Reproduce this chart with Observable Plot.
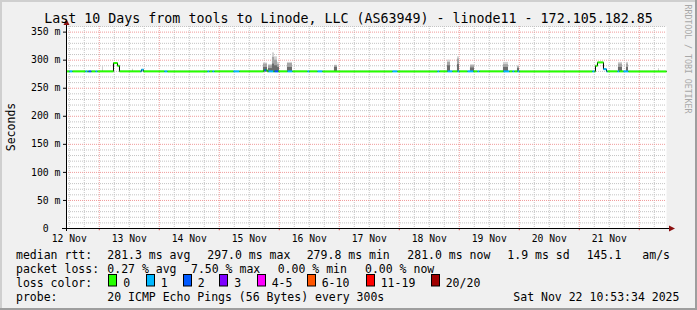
<!DOCTYPE html>
<html><head><meta charset="utf-8">
<script src="https://cdn.jsdelivr.net/npm/d3@7"></script>
<script src="https://cdn.jsdelivr.net/npm/@observablehq/plot@0.6"></script>
<style>html,body{margin:0;padding:0;background:#f0f0f0;} svg{display:block}</style>
</head><body><div id="chart"></div>
<script>
const FONT = "'DejaVu Sans Mono', monospace";
const title = "Last 10 Days from tools to Linode, LLC (AS63949) - linode11 - 172.105.182.85";
const yAxisTitle = "Seconds";
const watermark = "RRDTOOL / TOBI OETIKER";
const rangeStart = "12 10:53:34", rangeEnd = "22 10:53:34";
const dayNoons = ["12 12:00","13 12:00","14 12:00","15 12:00","16 12:00","17 12:00","18 12:00","19 12:00","20 12:00","21 12:00"];
const dayLabels = ["12 Nov","13 Nov","14 Nov","15 Nov","16 Nov","17 Nov","18 Nov","19 Nov","20 Nov","21 Nov"];
const yTicks = [0,50,100,150,200,250,300,350];
const yTickLabels = ["0\u00a0\u00a0","50 m","100 m","150 m","200 m","250 m","300 m","350 m"];

// median rtt (ms), step changes
const medianTime = ["12 10:53","13 05:41","13 07:17","13 08:05","13 16:53","13 17:41","15 17:41","15 19:17","21 06:29","21 07:17","21 09:41","21 10:53"];
const medianMs   = [280, 295, 290, 280, 283, 280, 282, 280, 290, 296, 284, 280];

// packet loss intervals (lost pings out of 20)
const lossStart = ["12 12:05","12 18:29","12 19:41","12 22:29","13 16:29","14 02:05","14 19:17","14 21:17","15 05:41","15 18:05","15 19:41","15 22:05","16 03:17","16 11:17","16 15:17","17 21:17","18 15:17","18 19:17","18 23:17","19 03:17","19 07:17","19 17:41","19 21:17","19 23:17","21 05:17","21 09:41","21 15:17","21 17:41"];
const lossEnd   = ["12 13:17","12 19:17","12 20:53","12 23:17","13 17:41","14 03:17","14 20:05","14 22:05","15 08:05","15 18:53","15 21:41","15 23:41","16 05:17","16 12:05","16 17:17","17 23:17","18 16:05","18 21:17","19 00:05","19 05:41","19 08:05","19 20:05","19 22:05","20 00:05","21 06:05","21 11:17","21 16:05","21 19:41"];
const lossCount = [1,1,2,1,1,1,1,1,1,2,1,2,1,1,1,1,1,1,1,1,1,1,1,1,1,1,1,1];

// smoke (ping spread, ms)
const smokeStart = ["13 01:17","13 13:17","15 17:41","15 19:41","15 21:17","15 22:05","15 23:17","16 03:17","16 22:05","18 19:17","18 23:17","19 04:29","19 17:41","19 23:17","21 15:41","21 18:53","22 07:41"];
const smokeEnd   = ["13 01:41","13 13:41","15 19:17","15 21:17","15 22:05","15 23:17","16 00:05","16 05:17","16 23:17","18 20:29","19 00:05","19 06:05","19 19:41","20 00:05","21 17:17","21 19:41","22 08:05"];
const smokeTop   = [290,284,295,292,313,306,296,296,291,300,306,292,296,290,296,296,285];
const smokeUpper = [280,280,293,290,305,300,292,294,290,296,302,290,292,288,293,293,280];
const smokeMid   = [280,280,287,285,293,290,287,287,287,290,292,286,287,285,287,287,280];

const rttLabel = "median rtt:";
const rttStats = ["281.3 ms avg","297.0 ms max","279.8 ms min","281.0 ms now","1.9 ms sd","145.1","am/s"];
const lossLabel = "packet loss:";
const lossStats = ["0.27 % avg","7.50 % max","0.00 % min","0.00 % now"];
const colorLabel = "loss color:";
const lossLabels = ["0","1","2","3","4-5","6-10","11-19","20/20"];
const lossColors = ["#26ff00","#00b8ff","#0059ff","#7e00ff","#ff00ff","#ff5500","#ff0000","#a10000"];
const probeLabel = "probe:";
const probeText = "20 ICMP Echo Pings (56 Bytes) every 300s";
const stamp = "Sat Nov 22 10:53:34 2025";

function T(s){const [d,hms]=s.split(" ");const [h,m,sec=0]=hms.split(":").map(Number);return new Date(Date.UTC(2025,10,+d,h,m,sec));}
function lossClass(n){return n===0?0:n===1?1:n===2?2:n===3?3:n<=5?4:n<=10?5:n<=19?6:7;}

const x0 = T(rangeStart), x1 = T(rangeEnd);
const majorX = d3.utcDay.range(x0, x1);
const minorX = d3.utcHour.every(6).range(x0, x1).filter(d => d.getUTCHours() !== 0);
const majorY = d3.range(50, 351, 50);
const minorY = d3.range(10, 361, 10).filter(v => v % 50 !== 0);

const medianPts = medianTime.map((t,i)=>({t:T(t), v:medianMs[i]})).concat([{t:x1, v:medianMs[medianMs.length-1]}]);
const bs = [...new Set([+x0, +x1, ...medianTime.map(s=>+T(s)), ...lossStart.map(s=>+T(s)), ...lossEnd.map(s=>+T(s))])].filter(v=>v>=+x0&&v<=+x1).sort((a,b)=>a-b);
const segs = [];
for (let i=0;i<bs.length-1;i++){
  const a=bs[i], b=bs[i+1];
  let v=medianMs[0];
  medianTime.forEach((s,k)=>{ if(+T(s)<=a) v=medianMs[k]; });
  let n=0;
  lossStart.forEach((s,k)=>{ if(+T(s)<=a && a<+T(lossEnd[k])) n=lossCount[k]; });
  segs.push({a:new Date(a), b:new Date(b), v, color:lossColors[lossClass(n)]});
}
const smoke = smokeStart.map((s,i)=>({a:T(s), b:T(smokeEnd[i]), top:smokeTop[i], up:smokeUpper[i], mid:smokeMid[i]}));

const chart = Plot.plot({
  width: 697, height: 310,
  marginLeft: 66, marginRight: 31, marginTop: 26, marginBottom: 82,
  style: {background: "#f0f0f0", fontFamily: FONT, color: "black", overflow: "visible"},
  x: {type: "utc", domain: [x0, x1], axis: null},
  y: {domain: [0, 360], axis: null},
  marks: [
    Plot.frame({fill: "white", stroke: "none"}),
    Plot.ruleY(minorY, {stroke: "#c4c4c4", strokeDasharray: "1,1"}),
    Plot.ruleX(minorX, {stroke: "#c4c4c4", strokeDasharray: "1,1"}),
    Plot.ruleY(majorY, {stroke: "#f09a9a", strokeDasharray: "1,1"}),
    Plot.ruleX(majorX, {stroke: "#f09a9a", strokeDasharray: "1,1"}),
    Plot.rect(smoke, {x1: "a", x2: "b", y1: d => 279, y2: "top", fill: "#d2d2d2"}),
    Plot.rect(smoke, {x1: "a", x2: "b", y1: d => 279, y2: "up", fill: "#a4a4a4"}),
    Plot.rect(smoke, {x1: "a", x2: "b", y1: d => 279, y2: "mid", fill: "#6c6c6c"}),
    Plot.line(medianPts, {x: "t", y: "v", curve: "step-after", stroke: "black", strokeWidth: 1}),
    Plot.link(segs, {x1: "a", x2: "b", y1: "v", y2: "v", stroke: "color", strokeWidth: 2}),
    Plot.ruleX(majorX, {y1: d => 0, y2: d => -4, stroke: "#e05050"}),
    Plot.axisY(yTicks, {tickSize: 3, tickPadding: 3, fontSize: 9.8, tickFormat: d => yTickLabels[yTicks.indexOf(d)]}),
    Plot.text(dayLabels, {x: (d,i) => T(dayNoons[i]), frameAnchor: "bottom", dy: 10.5, fontSize: 9.7, lineAnchor: "middle"})
  ]
});
document.getElementById("chart").appendChild(chart);

const svg = d3.select(chart);
const sx = chart.scale("x"), sy = chart.scale("y");
const X0 = Math.round(sx.apply(x0)), X1 = Math.round(sx.apply(x1)), Y0 = Math.round(sy.apply(0)), YT = Math.round(sy.apply(360));
const g = svg.append("g");
g.append("line").attr("x1", X0-4).attr("x2", X1+4).attr("y1", Y0+0.5).attr("y2", Y0+0.5).attr("stroke", "black");
g.append("line").attr("x1", X0+0.5).attr("x2", X0+0.5).attr("y1", Y0+3).attr("y2", YT-1).attr("stroke", "black");
g.append("path").attr("d", `M${X1+3},${Y0-2.5}L${X1+9},${Y0+0.5}L${X1+3},${Y0+3.5}Z`).attr("fill", "#8b1010");
g.append("path").attr("d", `M${X0-2.5},${YT-1}L${X0+0.5},${YT-7}L${X0+3.5},${YT-1}Z`).attr("fill", "#8b1010");

// shade border
const W = 697, H = 310;
g.append("path").attr("d", `M0,0H${W}V2H2V${H}H0Z`).attr("fill", "#cfcfcf");
g.append("path").attr("d", `M${W},0V${H}H0V${H-2}H${W-2}V0Z`).attr("fill", "#9e9e9e");

const txt = (x, y, s, size, opts={}) => g.append("text").attr("x", x).attr("y", y).attr("font-family", FONT)
  .attr("font-size", size).attr("fill", opts.fill || "black").attr("text-anchor", opts.anchor || "start")
  .style("white-space", "pre").text(s);

txt(348.5, 23, title, 13.3, {anchor: "middle"});
g.append("text").attr("transform", "translate(14.5,127) rotate(-90)").attr("text-anchor", "middle")
  .attr("font-family", FONT).attr("font-size", 11.5).text(yAxisTitle);
// vertical watermark, one glyph per 5px step
const wm = g.append("g").attr("fill", "#a8a8a8").attr("font-family", FONT).attr("font-size", 8.3);
[...watermark].forEach((ch, i) => {
  if (ch === " ") return;
  wm.append("text").attr("transform", `translate(685,${7 + i * 4.95}) rotate(90)`).text(ch);
});

const LS = 11.5;
txt(16, 258.5, rttLabel, LS);
[107.3, 207.3, 306.7, 407.3, 507.3, 586.7, 642.3].forEach((x,i) => txt(x, 258.5, rttStats[i], LS));
txt(16, 272.5, lossLabel, LS);
[107.3, 191, 277.7, 365].forEach((x,i) => txt(x, 272.5, lossStats[i], LS));
txt(16, 286.5, colorLabel, LS);
const boxX = [108.3,145.7,182.7,219.3,256.7,306.7,365.7,430.7];
lossLabels.forEach((l,i) => {
  g.append("rect").attr("x", Math.round(boxX[i])+0.5).attr("y", 274.5).attr("width", 8).attr("height", 11.5)
    .attr("fill", lossColors[i]).attr("stroke", "black");
  txt(boxX[i]+15, 286.5, l, LS);
});
txt(16, 300.5, probeLabel, LS);
txt(107.3, 300.5, probeText, LS);
txt(513.3, 300.5, stamp, LS);
</script></body></html>
